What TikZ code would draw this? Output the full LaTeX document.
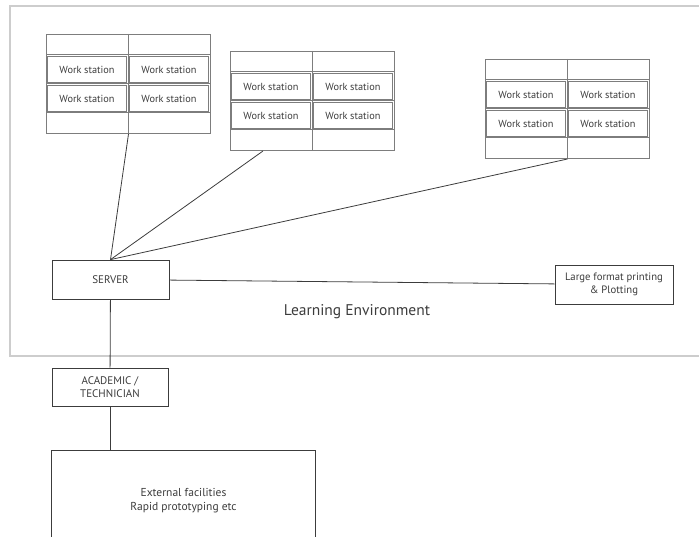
\documentclass[tikz,border=0pt]{standalone}
\usepackage{fontspec}
\setmainfont{PT Sans}
\usepackage{tikz}
\usetikzlibrary{calc}
\definecolor{frame}{RGB}{205, 205, 205}
\definecolor{mid}{RGB}{125, 125, 125}
\definecolor{dark}{RGB}{60, 60, 60}
\newcommand*{\cw}{82}

\begin{document}
\begin{tikzpicture}[
   x=1pt, y=-1pt,
   rack/.style={rectangle, draw=mid, line width=1, inner sep=0,
                minimum width=2*\cw, minimum height=99},
   station/.style={rectangle, draw=mid, line width=1.3, inner sep=0, text=dark,
                   minimum width=\cw-3, minimum height=26,
                   font=\fontsize{10.3}{11}\selectfont},
   unit/.style={rectangle, draw=dark, fill=white, line width=0.8, text=dark,
                align=center, inner sep=2, font=\fontsize{11}{13}\selectfont},
   wire/.style={dark, line width=0.8}
  ]

  \useasboundingbox (0, 0) rectangle (699, 537);

  % Learning environment
  \draw[frame, line width=2] (720, 6) -- (10, 6) -- (10, 356) -- (720, 356);
  \node (env) at (357, 312) [text=dark, font=\fontsize{15.5}{17}\selectfont] {Learning Environment};

  % Work station racks
  \foreach \n/\x/\y in {A/46/34, B/230/51, C/485/59} {
    \node (\n) at (\x, \y) [rack, anchor=north west] {};
    \draw[mid, line width=1] (\n.north) -- (\n.south);
    \foreach \r in {21, 50, 79} {
      \draw[mid, line width=1] (\x, \y + \r) -- (\x + 2 * \cw, \y + \r);
    }
    \node (\n11) at (\x + 0.5 * \cw, \y + 35.5) [station] {Work station};
    \node (\n12) at (\x + 1.5 * \cw, \y + 35.5) [station] {Work station};
    \node (\n21) at (\x + 0.5 * \cw, \y + 64.5) [station] {Work station};
    \node (\n22) at (\x + 1.5 * \cw, \y + 64.5) [station] {Work station};
  }

  \node (S) at (110.5, 279.5) [unit, minimum width=117, minimum height=39] {SERVER};
  \node (P) at (614, 284.5) [unit, minimum width=118, minimum height=39,
                              font=\fontsize{10.7}{12.5}\selectfont] {Large format printing\\\& Plotting};
  \node (T) at (110, 387) [unit, minimum width=116, minimum height=38] {ACADEMIC /\\TECHNICIAN};
  \node (X) at (183.5, 501) [unit, minimum width=264, minimum height=102,
                              font=\fontsize{11.5}{14}\selectfont] {External facilities\\Rapid prototyping etc};

  \coordinate (Bs) at ($(B.south west)!0.2!(B.south east)$);
  \coordinate (Xn) at (T.south |- X.north);

  \foreach \B/\E in {A.south/S.north, Bs/S.north, C.south/S.north,
                     S/P, S/T, T/Xn} {
    \draw[wire] (\B) -- (\E);
  }

\end{tikzpicture}
\end{document}
